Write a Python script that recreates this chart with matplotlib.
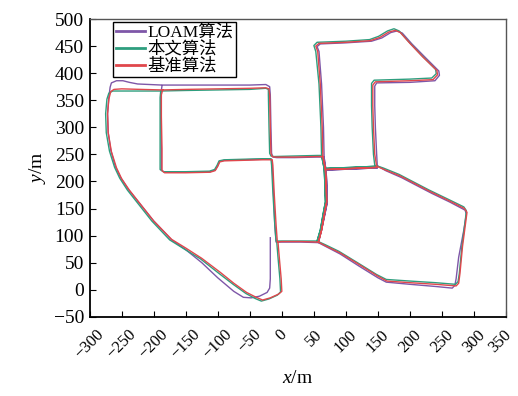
import matplotlib
matplotlib.use('Agg')
import matplotlib.pyplot as plt
import matplotlib.transforms as mtransforms

plt.rcParams['font.family'] = ['Liberation Serif', 'Noto Sans CJK SC']
plt.rcParams['mathtext.fontset'] = 'custom'
plt.rcParams['mathtext.it'] = 'Liberation Serif:italic'
plt.rcParams['mathtext.rm'] = 'Liberation Serif'

# Trajectories (x, y in metres)
loam_route = [
    (-18, 96), (-18, 60), (-18, 20), (-19, 3), (-23, -5), (-35, -12), (-48, -15), (-60, -14),
    (-75, -3), (-100, 22), (-125, 50), (-150, 74), (-172, 92), (-200, 127), (-221, 158),
    (-240, 186), (-252, 208), (-260, 228), (-267, 258), (-271, 290), (-272, 325), (-270, 355),
    (-268, 374), (-266, 382), (-258, 386), (-248, 386), (-238, 383), (-225, 380), (-187, 378),
    (-150, 378), (-100, 378), (-50, 378), (-25, 379), (-19, 375), (-18, 360), (-17, 300),
    (-16, 252), (-14, 245), (-8, 244), (20, 244), (55, 245), (66, 245), (65, 300), (62, 380),
    (58, 440), (55, 449), (60, 454), (100, 456), (140, 459), (156, 465), (170, 475), (180, 478),
    (188, 474), (203, 454), (223, 430), (245, 404), (246, 396), (239, 386), (200, 383),
    (148, 382), (145, 376), (145, 340), (146, 300), (148, 250), (149, 229), (162, 220),
    (187, 207), (208, 194), (234, 178), (262, 162), (286, 147), (288, 140), (284, 110),
    (276, 60), (272, 20), (270, 8), (266, 3), (240, 6), (200, 10), (163, 14), (150, 22),
    (120, 44), (91, 66), (70, 79), (57, 87), (62, 110), (69, 150), (71, 162), (70, 200),
    (69, 221), (110, 223), (149, 225), (110, 223), (69, 221), (67, 235), (66, 245), (67, 235),
    (69, 221), (70, 200), (71, 162), (69, 150), (62, 110), (57, 87), (30, 88), (0, 88),
    (-9, 88), (-11, 120), (-13, 180), (-15, 230), (-16, 241), (-30, 241), (-60, 240),
    (-90, 239), (-97, 237), (-100, 229), (-104, 221), (-112, 218), (-150, 217), (-183, 217),
    (-188, 221), (-188, 260), (-189, 320), (-189, 360), (-187, 377),
]

ours_route = [
    (-8, 89), (-6, 60), (-3, 20), (-2, -4), (-7, -10), (-20, -17), (-32, -21), (-42, -16),
    (-56, -7), (-76, 10), (-98, 30), (-127, 57), (-152, 75), (-175, 92), (-203, 127),
    (-223, 157), (-241, 184), (-253, 206), (-261, 226), (-269, 256), (-274, 290), (-275, 325),
    (-273, 352), (-270, 363), (-264, 367), (-250, 367), (-220, 367), (-190, 367), (-150, 368),
    (-100, 369), (-50, 370), (-25, 372), (-21, 370), (-21, 360), (-20, 300), (-19, 252),
    (-17, 247), (-12, 246), (20, 247), (55, 248), (62, 248), (61, 300), (58, 380), (53, 440),
    (50, 451), (55, 457), (100, 459), (137, 462), (151, 468), (165, 478), (175, 482),
    (183, 478), (198, 458), (218, 433), (240, 407), (241, 399), (234, 391), (200, 389),
    (144, 387), (140, 381), (140, 340), (141, 300), (143, 250), (145, 230), (158, 225),
    (183, 213), (204, 200), (230, 184), (258, 168), (284, 153), (288, 146), (286, 125),
    (281, 80), (277, 30), (275, 15), (271, 10), (240, 13), (200, 16), (163, 19), (148, 28),
    (118, 50), (89, 71), (68, 83), (55, 90), (60, 110), (66, 150), (68, 162), (67, 200),
    (66, 224), (110, 226), (146, 228), (110, 226), (66, 224), (64, 236), (62, 248), (64, 236),
    (66, 224), (67, 200), (68, 162), (66, 150), (60, 110), (55, 90), (30, 90), (0, 90),
    (-9, 90), (-11, 120), (-14, 180), (-16, 230), (-17, 242), (-30, 242), (-60, 241),
    (-90, 240), (-98, 238), (-101, 230), (-105, 222), (-113, 219), (-150, 218), (-185, 218),
    (-190, 222), (-190, 260), (-190, 320), (-190, 355), (-189, 367),
]

ref_route = [
    (-6, 88), (-4, 60), (-1, 20), (0, -3), (-5, -8), (-18, -15), (-30, -19), (-40, -14),
    (-55, -5), (-75, 12), (-96, 32), (-125, 58), (-150, 77), (-172, 93), (-200, 127),
    (-220, 157), (-238, 184), (-250, 205), (-258, 225), (-266, 255), (-271, 290), (-272, 325),
    (-270, 352), (-267, 366), (-262, 370), (-250, 371), (-220, 370), (-187, 369), (-150, 370),
    (-100, 371), (-50, 372), (-25, 373), (-20, 371), (-19, 360), (-18, 300), (-17, 252),
    (-15, 246), (-10, 245), (20, 245), (55, 246), (64, 246), (63, 300), (60, 380), (56, 440),
    (53, 450), (58, 455), (100, 457), (138, 460), (153, 466), (167, 476), (177, 479),
    (185, 475), (200, 455), (220, 430), (242, 405), (243, 397), (236, 388), (200, 386),
    (146, 384), (142, 378), (142, 340), (143, 300), (145, 250), (148, 228), (160, 222),
    (185, 210), (206, 197), (232, 181), (260, 165), (285, 150), (289, 143), (287, 125),
    (282, 80), (278, 30), (276, 12), (272, 7), (240, 10), (200, 13), (164, 16), (150, 25),
    (120, 47), (91, 68), (70, 80), (57, 88), (62, 110), (68, 150), (70, 162), (69, 200),
    (68, 222), (110, 224), (148, 226), (110, 224), (68, 222), (66, 235), (64, 246), (66, 235),
    (68, 222), (69, 200), (70, 162), (68, 150), (62, 110), (57, 88), (30, 89), (0, 89),
    (-7, 88), (-9, 120), (-12, 180), (-14, 230), (-15, 240), (-30, 240), (-60, 239),
    (-90, 238), (-97, 236), (-100, 228), (-104, 220), (-112, 217), (-150, 216), (-183, 216),
    (-187, 220), (-187, 260), (-188, 320), (-188, 360), (-186, 369),
]

labels = ['LOAM算法', '本文算法', '基准算法']
colors = ['#7e57a8', '#2e9e7e', '#e0474c']
x_ticks = [-300, -250, -200, -150, -100, -50, 0, 50, 100, 150, 200, 250, 300, 350]
y_ticks = [-50, 0, 50, 100, 150, 200, 250, 300, 350, 400, 450, 500]

fig = plt.figure(figsize=(5.18, 3.96), dpi=100)
ax = fig.add_axes([0.173, 0.2, 0.804, 0.752])

for route, lab, col in zip([loam_route, ours_route, ref_route], labels, colors):
    xs = [p[0] for p in route]
    ys = [p[1] for p in route]
    ax.plot(xs, ys, color=col, lw=1.0, label=lab)

ax.set_xlim(-300, 350)
ax.set_ylim(-50, 500)
ax.set_xticks(x_ticks)
ax.set_yticks(y_ticks)
ax.set_xticklabels([str(v).replace('-', '\u2212') for v in x_ticks], rotation=45, ha='center')
ax.set_yticklabels([str(v).replace('-', '\u2212') for v in y_ticks])
ax.tick_params(direction='in', length=4, width=0.8, labelsize=14, pad=4)
ax.tick_params(axis='x', labelsize=12, pad=7)

# nudge the last x label so it stays inside the figure
last = ax.get_xticklabels()[-1]
last.set_transform(last.get_transform() + mtransforms.ScaledTranslation(-4 / 72, 0, fig.dpi_scale_trans))

for side in ['left', 'bottom']:
    ax.spines[side].set_linewidth(1.3)
    ax.spines[side].set_color('black')
for side in ['top', 'right']:
    ax.spines[side].set_linewidth(1.0)
    ax.spines[side].set_color('#555555')

ax.set_xlabel(r'$x$/m', fontsize=14, labelpad=6)
ax.set_ylabel(r'$y$/m', fontsize=14, labelpad=4)

leg = ax.legend(loc='upper left', bbox_to_anchor=(0.056, 0.99), fontsize=12.5,
                frameon=True, fancybox=False, edgecolor='black', framealpha=1,
                borderaxespad=0, borderpad=0.15, labelspacing=0.02,
                handlelength=1.7, handletextpad=0.15)
leg.get_frame().set_linewidth(1.0)
for line in leg.get_lines():
    line.set_linewidth(2.0)

fig.savefig('out.png', dpi=100)
